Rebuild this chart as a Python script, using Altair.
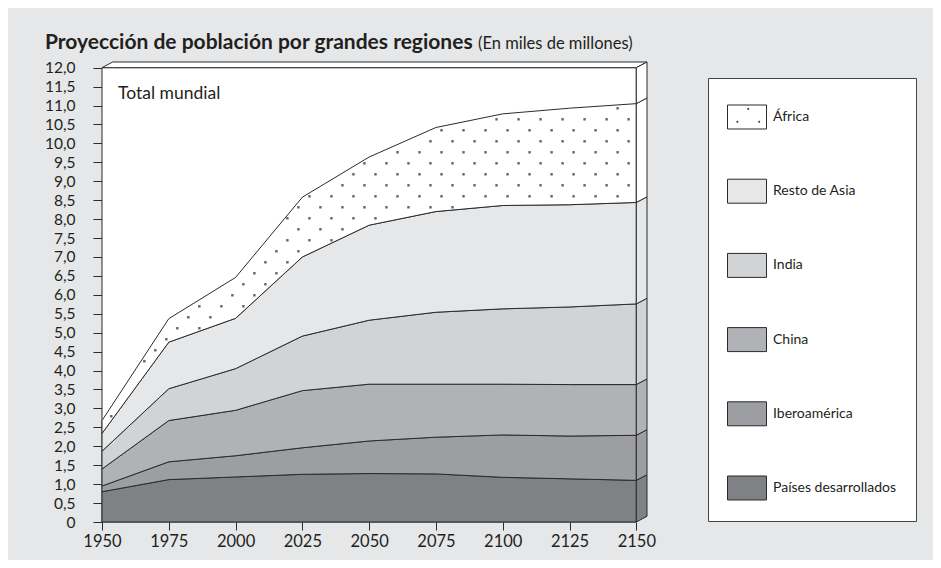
import altair as alt
import pandas as pd
import numpy as np

# ---------------- data (miles de millones) ----------------
years = [1950, 1975, 2000, 2025, 2050, 2075, 2100, 2125, 2150]
paises_desarrollados = [0.80, 1.12, 1.19, 1.26, 1.28, 1.27, 1.18, 1.14, 1.10]
iberoamerica = [0.15, 0.47, 0.56, 0.70, 0.86, 0.97, 1.12, 1.13, 1.19]
china = [0.45, 1.09, 1.20, 1.51, 1.50, 1.40, 1.34, 1.36, 1.34]
india = [0.47, 0.84, 1.10, 1.44, 1.69, 1.90, 1.99, 2.05, 2.13]
resto_asia = [0.47, 1.23, 1.33, 2.09, 2.51, 2.66, 2.73, 2.70, 2.68]
africa = [0.34, 0.62, 1.08, 1.58, 1.80, 2.22, 2.42, 2.55, 2.61]

stack_names = ["Países desarrollados", "Iberoamérica", "China", "India", "Resto de Asia", "África"]
stack_values = [paises_desarrollados, iberoamerica, china, india, resto_asia, africa]
stack_colors = ["#808185", "#9d9ea1", "#b1b2b5", "#d2d3d5", "#e6e7e8", "#ffffff"]
legend_order = list(reversed(stack_names))
legend_colors = list(reversed(stack_colors))

y_ticks = [i * 0.5 for i in range(25)]
x_ticks = years
Y_MAX = 12.0

title_bold = "Proyección de población por grandes regiones"
title_normal = "(En miles de millones)"
inner_label = "Total mundial"

# ---------------- styling ----------------
BG = "#e6e7e8"
LINE = "#2b2b2b"
TXT = "#231f20"
FONT = "Lato"
DEPTH_X = 4.0     # 3-D depth in years
DEPTH_Y = 0.15    # 3-D depth in value units

# ---------------- derived tables ----------------
cum = np.cumsum(np.array(stack_values), axis=0)
lows = np.vstack([np.zeros(len(years)), cum[:-1]])

rows = []
for i, name in enumerate(stack_names):
    for j, yr in enumerate(years):
        rows.append({"year": yr, "region": name, "lo": float(lows[i, j]), "hi": float(cum[i, j])})
df_main = pd.DataFrame(rows)

side = []
side_layers = [(stack_names[i], float(lows[i, -1]), float(cum[i, -1]), stack_colors[i]) for i in range(len(stack_names))]
side_layers.append(("vacío", float(cum[-1, -1]), Y_MAX, "#ffffff"))
for k, (name, lo, hi, col) in enumerate(side_layers):
    side.append({"x": years[-1], "lo": lo, "hi": hi, "color": col, "k": k})
    side.append({"x": years[-1] + DEPTH_X, "lo": lo + DEPTH_Y, "hi": hi + DEPTH_Y, "color": col, "k": k})
df_side = pd.DataFrame(side)

df_top = pd.DataFrame({
    "x": [years[0], years[0] + DEPTH_X, years[-1], years[-1] + DEPTH_X],
    "hi": [Y_MAX, Y_MAX + DEPTH_Y, Y_MAX + DEPTH_Y, Y_MAX + DEPTH_Y],
    "lo": [Y_MAX, Y_MAX, Y_MAX, Y_MAX + DEPTH_Y],
})

df_frame = pd.DataFrame({"x": [years[0]], "x2": [years[-1]], "y": [0.0], "y2": [Y_MAX]})

# dotted texture for África (decoration only)
DOT_DX = 8.24
DOT_DY = 0.2905
c_lo = cum[-2]
c_hi = cum[-1]
pat = []
for j in range(-60, 40):
    v = 9.765 + j * DOT_DY
    off = (j % 2) * DOT_DX / 2
    for k in range(-40, 40):
        yr = 2060.6 + off + k * DOT_DX
        if years[0] + 1.5 < yr < years[-1] - 0.8:
            lo = np.interp(yr, years, c_lo)
            hi = np.interp(yr, years, c_hi)
        elif years[-1] + 0.8 < yr < years[-1] + DEPTH_X - 0.6:
            t = (yr - years[-1]) / DEPTH_X
            lo = c_lo[-1] + t * DEPTH_Y
            hi = c_hi[-1] + t * DEPTH_Y
        else:
            continue
        if lo + 0.07 < v < hi - 0.07:
            pat.append({"x": yr, "y": v})
df_dots = pd.DataFrame(pat)

# ---------------- scales / axes ----------------
xs = alt.Scale(domain=[years[0], years[-1] + DEPTH_X], nice=False, zero=False)
ys = alt.Scale(domain=[0, Y_MAX + DEPTH_Y], nice=False, zero=True)

x_axis = alt.Axis(values=x_ticks, format="d", title=None, domain=False, grid=False,
                  tickSize=8, tickColor=LINE, tickWidth=1, labelFont=FONT, labelFontSize=16.5,
                  labelColor=TXT, labelPadding=3, labelFlush=False, labelOverlap=False)
y_axis = alt.Axis(values=y_ticks, title=None, domain=False, grid=False,
                  labelExpr="datum.value == 0 ? '0' : replace(format(datum.value, '.1f'), '.', ',')",
                  tickSize=9, tickColor=LINE, tickWidth=1, labelFont=FONT, labelFontSize=15.5,
                  labelColor=TXT, labelPadding=18, labelFlush=False, labelOverlap=False)

def X(field):
    return alt.X(field, scale=xs, axis=x_axis)

def Y(field):
    return alt.Y(field, scale=ys, axis=y_axis, stack=None)

RECT = "M-1,-0.615H1V0.615H-1Z"
AFR = RECT + "M0.04,-0.44h0.05v0.05h-0.05ZM-0.52,0.22h0.05v0.05h-0.05ZM0.6,0.22h0.05v0.05h-0.05Z"
legend_shapes = [AFR if r == "África" else RECT for r in legend_order]

legend = alt.Legend(
    title=None, orient="none", legendX=606, legendY=16, padding=19, rowPadding=40.2,
    symbolType=RECT, symbolSize=1521, symbolStrokeColor=LINE, symbolStrokeWidth=1,
    symbolOpacity=1,
    labelFont=FONT, labelFontSize=14, labelColor=TXT, labelOffset=6, labelLimit=300,
    fillColor="#ffffff",
)
fill_scale = alt.Scale(domain=legend_order, range=legend_colors)

# ---------------- layers ----------------
frame = alt.Chart(df_frame).mark_rect(fill="#ffffff", stroke=LINE, strokeWidth=1).encode(
    x=X("x:Q"), x2="x2:Q", y=Y("y:Q"), y2="y2:Q",
)

areas = alt.Chart(df_main).mark_area(stroke=LINE, strokeWidth=1, opacity=1).encode(
    x=X("year:Q"), y=Y("hi:Q"), y2="lo:Q",
    fill=alt.Fill("region:N", scale=fill_scale, legend=legend),
    detail="region:N",
)

# invisible points that only carry the legend's patch shapes
keys = alt.Chart(df_main).mark_point(filled=True, stroke=LINE, strokeWidth=1, opacity=0).encode(
    x=X("year:Q"), y=Y("hi:Q"),
    fill=alt.Fill("region:N", scale=fill_scale, legend=legend),
    shape=alt.Shape("region:N", scale=alt.Scale(domain=legend_order, range=legend_shapes), legend=legend),
)

dots = alt.Chart(df_dots).mark_square(size=6, color="#666666", opacity=1, strokeWidth=0).encode(
    x=X("x:Q"), y=Y("y:Q"),
)

top = alt.Chart(df_top).mark_area(fill="#ffffff", stroke=LINE, strokeWidth=1, opacity=1).encode(
    x=X("x:Q"), y=Y("hi:Q"), y2="lo:Q",
)

sides = alt.Chart(df_side).mark_area(stroke=LINE, strokeWidth=1, opacity=1).encode(
    x=X("x:Q"), y=Y("hi:Q"), y2="lo:Q",
    fill=alt.Fill("color:N", scale=None), detail="k:N",
)

t_bold = alt.Chart(pd.DataFrame({"t": [title_bold]})).mark_text(
    align="left", baseline="alphabetic", font=FONT, fontWeight="bold", fontSize=21, color=TXT
).encode(x=alt.value(-57), y=alt.value(-13), text="t:N")

t_norm = alt.Chart(pd.DataFrame({"t": [title_normal]})).mark_text(
    align="left", baseline="alphabetic", font=FONT, fontSize=16.5, color=TXT
).encode(x=alt.value(376), y=alt.value(-13), text="t:N")

t_inner = alt.Chart(pd.DataFrame({"t": [inner_label]})).mark_text(
    align="left", baseline="alphabetic", font=FONT, fontSize=17.5, color=TXT
).encode(x=alt.value(16), y=alt.value(37), text="t:N")

chart = alt.layer(frame, areas, keys, dots, top, sides, t_bold, t_norm, t_inner).properties(
    width=545, height=460,
    background=BG,
    autosize=alt.AutoSizeParams(type="none"),
    padding={"left": 94, "top": 54, "right": 286, "bottom": 38},
).configure_view(stroke=None).configure_legend(strokeColor="#444444")

chart.save("out.html", embed_options={"renderer": "svg", "actions": False})
